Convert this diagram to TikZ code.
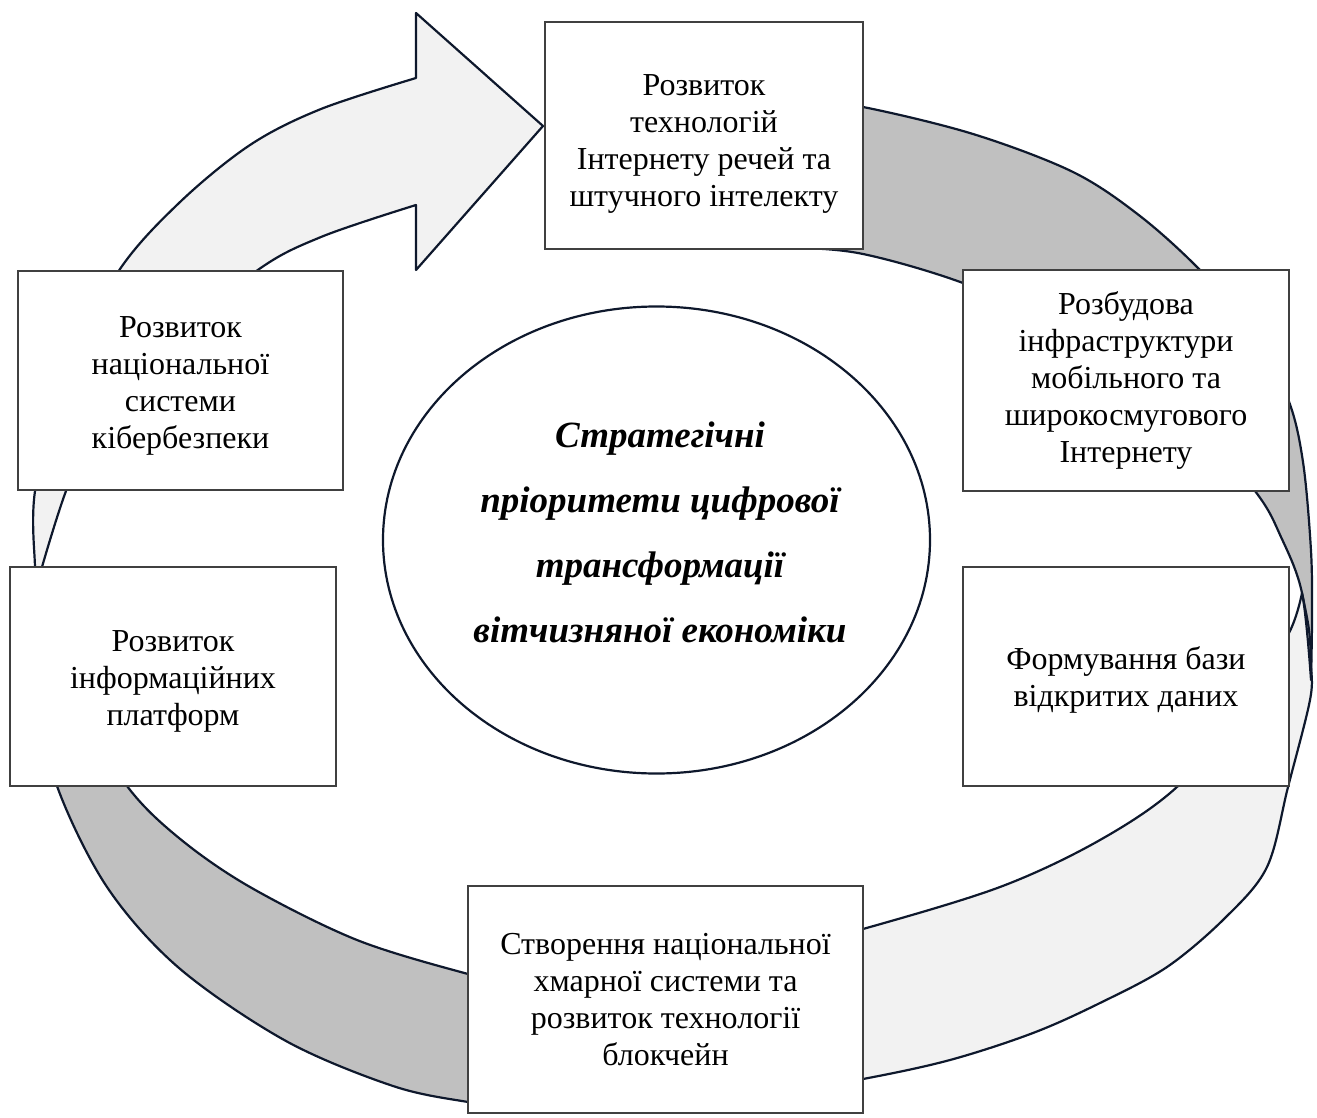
\documentclass[tikz,border=0pt]{standalone}
\usepackage{fontspec}
\setmainfont{Liberation Serif}
\usetikzlibrary{shapes.geometric}
\definecolor{bandline}{RGB}{14,24,44}
\definecolor{lightband}{RGB}{242,242,242}
\definecolor{grayband}{RGB}{192,192,192}
\definecolor{boxline}{RGB}{64,64,64}
\newcommand{\segA}{plot[smooth,tension=0.55] coordinates {(37,592) (35,567) (35,491) (62,380) (118,272) (179,203) (250,145) (321,109) (416,78)} -- (416,13) -- (543,126) -- (416,270) -- (416,205) -- plot[smooth,tension=0.55] coordinates {(416,205) (321,237) (255,272) (150,360) (90,440) (66,491) (42,567) (37,592)} -- cycle}
\newcommand{\segB}{plot[smooth,tension=0.55] coordinates {(720,96) (800,100) (863,107) (973,134) (1073,172) (1140,216) (1200,270) (1252,330) (1288,399) (1303,462) (1311,551) (1312,618) (1311,680)} -- plot[smooth,tension=0.55] coordinates {(1311,680) (1302,593) (1281,537) (1255,491) (1180,405) (1070,330) (963,283) (863,254) (790,247) (720,243)} -- cycle}
\newcommand{\segC}{plot[smooth,tension=0.55] coordinates {(1302,593) (1309,630) (1311,665) (1310,700) (1288,787) (1267,867) (1225,918) (1167,967) (1100,1003) (1033,1033) (950,1060) (863,1079) (760,1096)} -- plot[smooth,tension=0.55] coordinates {(760,955) (863,929) (1000,887) (1100,840) (1178,786) (1245,705) (1289,633) (1302,593)} -- cycle}
\newcommand{\segD}{plot[smooth,tension=0.55] coordinates {(520,1108) (468,1102) (393,1086) (286,1041) (179,968) (107,887) (57,786) (40,700) (37,600)} -- plot[smooth,tension=0.55] coordinates {(37,600) (75,700) (127,786) (179,838) (250,887) (357,940) (468,974) (520,985)} -- cycle}
\tikzset{
  bandedge/.style={draw=bandline, line width=2.2pt, line join=round},
  prioritybox/.style={draw=boxline, line width=1.4pt, fill=white, inner sep=0pt, align=center,
    font=\fontsize{32}{37}\selectfont},
  hubellipse/.style={ellipse, draw=bandline, line width=2.2pt, fill=white, inner sep=0pt},
  hubtext/.style={align=center, inner sep=0pt, font=\fontsize{37}{65}\selectfont\bfseries\itshape}
}
\begin{document}
\begin{tikzpicture}[x=1pt,y=-1pt]
\useasboundingbox (0,0) rectangle (1317,1118);
% band fills
\fill[grayband] \segB;
\fill[grayband] \segD;
\fill[lightband] \segC;
\fill[lightband] \segA;
% band outlines
\path[bandedge] \segB;
\path[bandedge] \segD;
\path[bandedge] \segC;
\path[bandedge] \segA;
% centre
\node[hubellipse, minimum width=547pt, minimum height=467pt] (hub) at (656.5,540) {};
\node[hubtext] (hubtxt) at (660,532) {Стратегічні\\пріоритети цифрової\\трансформації\\вітчизняної економіки};
% boxes
\node[prioritybox, minimum width=318pt, minimum height=227pt] (iot) at (704,135.5) {\rule{0pt}{38pt}Розвиток\\технологій\\Інтернету речей та\\штучного інтелекту};
\node[prioritybox, minimum width=326pt, minimum height=221pt] (mobile) at (1126,380.5) {Розбудова\\інфраструктури\\мобільного та\\широкосмугового\\Інтернету};
\node[prioritybox, minimum width=326pt, minimum height=219pt] (opendata) at (1126,676.5) {\rule{0pt}{30pt}Формування бази\\відкритих даних};
\node[prioritybox, minimum width=395pt, minimum height=227pt] (cloud) at (665.5,999.5) {Створення національної\\хмарної системи та\\розвиток технології\\блокчейн};
\node[prioritybox, minimum width=326pt, minimum height=219pt] (platform) at (173,676.5) {\rule{0pt}{30pt}Розвиток\\інформаційних\\платформ};
\node[prioritybox, minimum width=325pt, minimum height=219pt] (cyber) at (180.5,380.5) {\rule{0pt}{32pt}Розвиток\\національної\\системи\\кібербезпеки};
\end{tikzpicture}
\end{document}
